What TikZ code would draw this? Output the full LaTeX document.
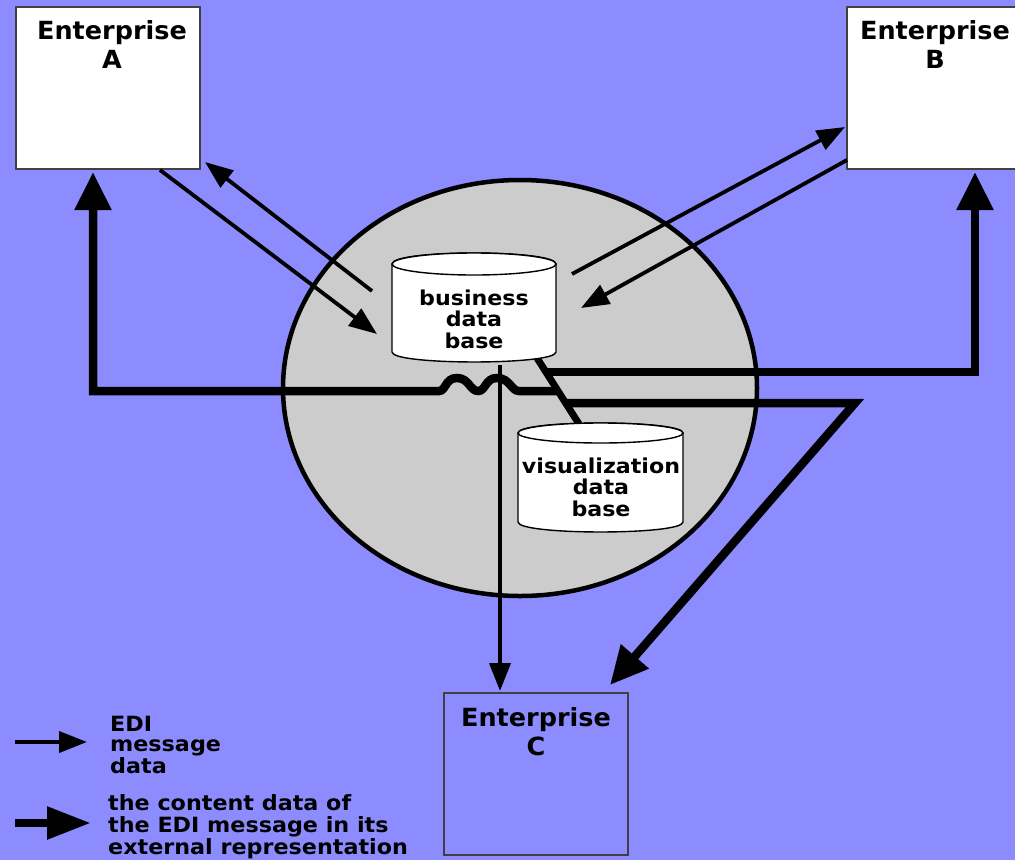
\documentclass[tikz,border=0pt]{standalone}
\usepackage{fontspec}
\usetikzlibrary{arrows.meta,shapes.geometric}
\newfontfamily\entfont[FakeStretch=1.02]{DejaVu Sans Bold}
\newfontfamily\dbfont[FakeStretch=1.08]{DejaVu Sans Bold}
\newfontfamily\legfont[FakeStretch=1.06]{DejaVu Sans Bold}
\definecolor{bgblue}{RGB}{140,140,255}
\definecolor{zonegray}{RGB}{204,204,204}
\begin{document}
\begin{tikzpicture}[x=1pt,y=-1pt,
  thinarrow/.style={line width=3.8pt,-{Triangle[length=28pt,width=21pt]}},
  thickarrow/.style={line width=8.5pt,-{Triangle[length=38pt,width=35pt]}},
  thicklink/.style={line width=7pt},
  entbox/.style={draw=black!75,line width=1.2pt,minimum width=184pt,minimum height=162pt,inner sep=0pt},
  entlabel/.style={anchor=north,align=center,inner sep=0pt,font=\entfont\fontsize{25}{29}\selectfont},
  dbshape/.style={draw=black,line width=1.4pt,fill=white},
  dblabel/.style={anchor=north,align=center,inner sep=0pt,font=\dbfont\fontsize{20.5}{21.5}\selectfont},
  leglabel/.style={anchor=north west,align=left,inner sep=0pt,font=\legfont\fontsize{21}{20}\selectfont},
]
\useasboundingbox (0,0) rectangle (1015,860);
\fill[bgblue] (0,0) rectangle (1015,860);

% central zone
\node[ellipse,draw=black,line width=4.5pt,fill=zonegray,minimum width=474pt,minimum height=416pt,inner sep=0pt] (zone) at (520,388) {};

% enterprises
\node[entbox,fill=white] (entA) at (108,88) {};
\node[entbox,fill=white] (entB) at (939,88) {};
\node[entbox] (entC) at (536,774) {};
\node[entlabel] (labA) at ([xshift=4pt,yshift=-14pt]entA.north) {Enterprise\\A};
\node[entlabel] (labB) at ([xshift=-4pt,yshift=-14pt]entB.north) {Enterprise\\B};
\node[entlabel] (labC) at ([yshift=-15pt]entC.north) {Enterprise\\C};

% link between the two data bases
\coordinate (lk1) at (537,358);
\coordinate (lk2) at (579,424);
\draw[thicklink] (lk1) -- (lk2);

% business data base
\filldraw[dbshape] (392,264) -- (392,352) .. controls (392,365.3) and (556,365.3) .. (556,352)
  -- (556,264) .. controls (556,249.3) and (392,249.3) .. (392,264) -- cycle;
\draw[dbshape] (474,264) ellipse [x radius=82, y radius=11];
\node[dblabel] (bdb) at (474,289.5) {business\\data\\base};

% visualization data base
\filldraw[dbshape] (518,433) -- (518,522) .. controls (518,535.3) and (683,535.3) .. (683,522)
  -- (683,433) .. controls (683,419.7) and (518,419.7) .. (518,433) -- cycle;
\draw[dbshape] (600.5,433) ellipse [x radius=82.5, y radius=10];
\node[dblabel] (vdb) at (601,457.5) {visualization\\data\\base};

% thin connectors (EDI message data)
\coordinate (aout1) at (160,170);  \coordinate (aout2) at (377,334);
\coordinate (ain1)  at (372,291);  \coordinate (ain2)  at (205,162);
\coordinate (bout1) at (572,274);  \coordinate (bout2) at (845,127);
\coordinate (bin1)  at (847,160);  \coordinate (bin2)  at (581,308);
\coordinate (cdn1)  at (500,365);  \coordinate (cdn2)  at (500,691);
\draw[thinarrow] (aout1) -- (aout2);
\draw[thinarrow] (ain1) -- (ain2);
\draw[thinarrow] (bout1) -- (bout2);
\draw[thinarrow] (bin1) -- (bin2);
\draw[thinarrow] (cdn1) -- (cdn2);

% thick connectors (content data)
\coordinate (ta1) at (558,391);
\coordinate (ta2) at (93,391);
\coordinate (ta3) at (93,172);
\draw[thickarrow] (ta1) -- (519,391)
  .. controls (511,391) and (510,378) .. (497,378)
  .. controls (485,378) and (486,391) .. (478,391)
  .. controls (470,391) and (469,378) .. (457,378)
  .. controls (445,378) and (446,391) .. (439,391)
  -- (ta2) -- (ta3);
\coordinate (tb1) at (545,372);
\coordinate (tb2) at (975,372);
\coordinate (tb3) at (975,172);
\draw[thickarrow] (tb1) -- (tb2) -- (tb3);
\coordinate (tc1) at (567,403);
\coordinate (tc2) at (855,403);
\coordinate (tc3) at (610,685);
\draw[thickarrow] (tc1) -- (tc2) -- (tc3);

% legend
\coordinate (lg1s) at (15,742); \coordinate (lg1e) at (87,742);
\draw[thinarrow] (lg1s) -- (lg1e);
\node[leglabel] (leg1) at (110,716) {EDI\\message\\data};
\coordinate (lg2s) at (15,823); \coordinate (lg2e) at (91,823);
\draw[thickarrow,-{Triangle[length=44pt,width=31pt]}] (lg2s) -- (lg2e);
\node[leglabel,font=\legfont\fontsize{21}{22}\selectfont] (leg2) at (108,794) {the content data of\\the EDI message in its\\external representation};
\end{tikzpicture}
\end{document}
